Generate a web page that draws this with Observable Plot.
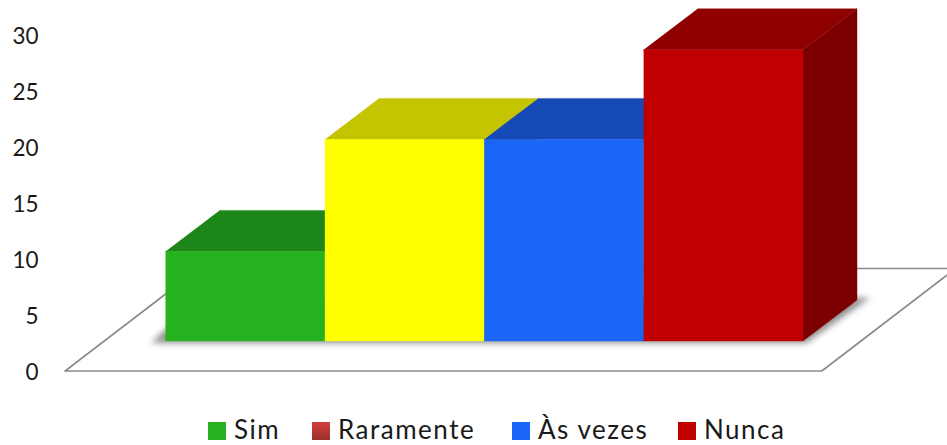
<!DOCTYPE html>
<html lang="pt">
<head>
<meta charset="utf-8">
<title>Sim, Raramente, Às vezes, Nunca</title>
<script src="https://cdn.jsdelivr.net/npm/d3@7"></script>
<script src="https://cdn.jsdelivr.net/npm/@observablehq/plot@0.6"></script>
<style>
  html, body { margin: 0; padding: 0; background: #fff; overflow: hidden; }
  #chart svg { display: block; }
  #legend { position: relative; height: 30px; font-family: Lato, sans-serif; font-size: 26px; letter-spacing: 1.5px; line-height: 1; color: #1a1a1a; }
  #legend span.item { position: absolute; top: -1px; display: flex; align-items: center; height: 30px; white-space: nowrap; }
  #legend i { display: block; width: 18px; height: 18px; margin-right: 8px; position: relative; top: 1.5px; }
</style>
</head>
<body>
<div id="chart"></div>
<div id="legend"></div>
<script>
// Bars, left to right
const barValues = [8, 18, 18, 26];
const frontColors = ["#26b21f", "#ffff00", "#1a66f6", "#c00000"];
const topColors = ["#1c8619", "#c4c400", "#1449b6", "#8f0000"];
const sideColors = ["#145f12", "#8f8f00", "#0f3684", "#7c0000"];

// Legend entries
const legendNames = ["Sim", "Raramente", "Às vezes", "Nunca"];
const legendFills = ["#26b21f", "linear-gradient(#d23f3c, #98302d)", "#1a66f6", "#c00000"];
const legendLefts = [208, 312, 512, 678];

// Value axis
const axisTicks = [0, 5, 10, 15, 20, 25, 30];

// Perspective of the box, in units of the x and y scales
const depthX = 0.339;
const depthY = 3.66;
const floorLift = 2.68;

// The floor outline and the soft shadow beneath the bars
const floorX = [-0.63, 4.118, 4.118 + 0.84, -0.63 + 0.84];
const floorY = [0, 0, 9.15, 9.15];
const shadowX = [-0.09, 4.02, 4.42, 0.216];
const shadowY = [2.5, 2.5, 6.55, 6.55];

const floor = floorX.map((x, i) => ({x, y: floorY[i]}));
floor.push(floor[0]);
const shadow = shadowX.map((x, i) => ({x, y: shadowY[i]}));

// Each bar becomes three faces painted back to front: side, top, front
const faces = barValues.flatMap((value, i) => {
  const x0 = i, x1 = i + 1;
  const y0 = floorLift, y1 = floorLift + value;
  const face = (name, color, pts) =>
    pts.map(([x, y]) => ({face: `${i}-${name}`, color, x, y}));
  return [
    ...face("side", sideColors[i], [[x1, y0], [x1 + depthX, y0 + depthY], [x1 + depthX, y1 + depthY], [x1, y1]]),
    ...face("top", topColors[i], [[x0, y1], [x1, y1], [x1 + depthX, y1 + depthY], [x0 + depthX, y1 + depthY]]),
    ...face("front", frontColors[i], [[x0, y0], [x1, y0], [x1, y1], [x0, y1]])
  ];
});

const chart = Plot.plot({
  width: 947,
  height: 415,
  marginLeft: 38,
  marginRight: 0,
  marginTop: 0,
  marginBottom: 0,
  style: {background: "transparent", fontFamily: "Lato, sans-serif", color: "#1a1a1a"},
  x: {domain: [0, 4], range: [165, 802.5], axis: null},
  y: {domain: [0, 30], range: [370.5, 34.5], axis: null},
  marks: [
    Plot.line(floor, {x: "x", y: "y", stroke: "#8c8c8c", strokeWidth: 1.7, fill: "#fff"}),
    Plot.line(shadow, {x: "x", y: "y", fill: "#8f8f8f", stroke: "none", imageFilter: "blur(3px)"}),
    Plot.line(faces, {x: "x", y: "y", z: "face", fill: "color", stroke: "color", strokeWidth: 0.4}),
    Plot.axisY(axisTicks, {
      anchor: "left",
      ticks: axisTicks,
      tickSize: 0,
      tickPadding: 0,
      fontSize: 22.5,
      dy: 1.5,
      label: null
    })
  ]
});
document.getElementById("chart").append(chart);

// Legend row below the plot
const legend = d3.select("#legend");
legendNames.forEach((name, i) => {
  const item = legend.append("span").attr("class", "item").style("left", `${legendLefts[i]}px`);
  item.append("i").style("background", legendFills[i]);
  item.append("span").text(name);
});
</script>
</body>
</html>
